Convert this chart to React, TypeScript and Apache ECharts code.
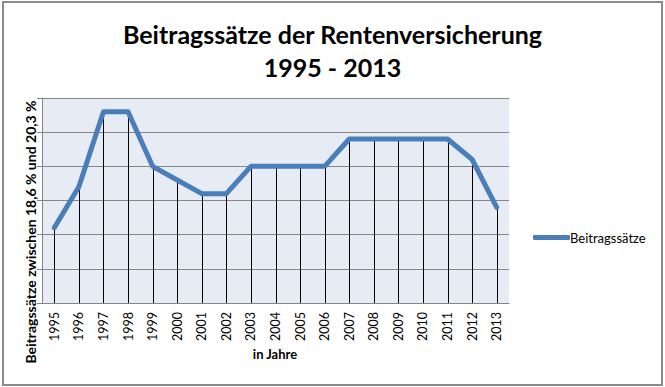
import React, { useEffect, useRef } from "react";
import * as echarts from "echarts";

const years = ["1995","1996","1997","1998","1999","2000","2001","2002","2003","2004","2005","2006","2007","2008","2009","2010","2011","2012","2013"];
const rates = [18.6, 19.2, 20.3, 20.3, 19.5, 19.3, 19.1, 19.1, 19.5, 19.5, 19.5, 19.5, 19.9, 19.9, 19.9, 19.9, 19.9, 19.6, 18.9];
const seriesName = "Beitragssätze";
const titleLines = ["Beitragssätze der Rentenversicherung", "1995 - 2013"];
const yAxisTitle = "Beitragssätze zwischen 18,6 % und 20,3 %";
const xAxisTitle = "in Jahre";
const yMin = 17.5;
const yMax = 20.5;
const yStep = 0.5;

const FONT = "Lato";

export default function App() {
  const ref = useRef<HTMLDivElement>(null);
  useEffect(() => {
    if (!ref.current) return;
    const chart = echarts.init(ref.current, null, { renderer: "svg" });
    chart.setOption({
      animation: false,
      backgroundColor: "#ffffff",
      title: {
        text: titleLines.join("\n"),
        left: "center",
        top: 12,
        textStyle: { fontFamily: FONT, fontWeight: "bold", fontSize: 25, lineHeight: 33, color: "#000" },
      },
      grid: { left: 42, right: 156, top: 98, bottom: 84 },
      legend: {
        data: [seriesName],
        left: 528,
        top: 226,
        icon: "roundRect",
        itemWidth: 37,
        itemHeight: 5,
        textStyle: { fontFamily: FONT, fontSize: 13, color: "#000", padding: [0, 0, 0, -5] },
      },
      xAxis: {
        type: "category",
        data: years,
        boundaryGap: true,
        axisLine: { show: true, lineStyle: { color: "#868686", width: 1 } },
        axisTick: { show: false },
        axisLabel: { rotate: 90, margin: 9, fontFamily: FONT, fontSize: 12.5, color: "#000" },
        splitLine: { show: false },
      },
      yAxis: {
        type: "value",
        min: yMin,
        max: yMax,
        interval: yStep,
        axisLine: { show: true, lineStyle: { color: "#868686", width: 1 } },
        axisTick: { show: true, length: 5, lineStyle: { color: "#868686" } },
        axisLabel: { show: false },
        splitLine: { show: true, lineStyle: { color: "#868686", width: 1 } },
        splitArea: { show: true, areaStyle: { color: ["#e7ebf3", "#e7ebf3"] } },
      },
      series: [
        {
          type: "custom",
          name: "drop",
          z: 1,
          data: rates.map((v, i) => [i, v]),
          renderItem: (params: any, api: any) => {
            const i = api.value(0);
            const v = api.value(1);
            const p1 = api.coord([i, v]);
            const p2 = api.coord([i, yMin]);
            return {
              type: "line",
              shape: { x1: Math.round(p1[0]) + 0.5, y1: p1[1], x2: Math.round(p2[0]) + 0.5, y2: p2[1] },
              style: { stroke: "#000", lineWidth: 1 },
            };
          },
        },
        {
          type: "line",
          name: seriesName,
          z: 3,
          data: rates,
          symbol: "none",
          showSymbol: false,
          lineStyle: { color: "#4a7ebb", width: 5, cap: "round", join: "round" },
          itemStyle: { color: "#4a7ebb" },
        },
      ],
      graphic: [
        {
          type: "rect",
          shape: { x: 3, y: 2, width: 659, height: 383 },
          style: { fill: "none", stroke: "#8a8a8a", lineWidth: 2 },
          silent: true,
          z: 100,
        },
        {
          type: "text",
          x: 30,
          y: 232,
          rotation: Math.PI / 2,
          style: {
            text: yAxisTitle,
            fontFamily: FONT,
            fontWeight: "bold",
            fontSize: 14,
            fill: "#000",
            align: "center",
            verticalAlign: "middle",
          },
        },
        {
          type: "text",
          x: 275,
          y: 354,
          style: {
            text: xAxisTitle,
            fontFamily: FONT,
            fontWeight: "bold",
            fontSize: 13,
            fill: "#000",
            align: "center",
            verticalAlign: "middle",
          },
        },
      ],
    });
    return () => chart.dispose();
  }, []);
  return <div ref={ref} style={{ position: "fixed", left: 0, top: 0, width: 665, height: 387 }} />;
}
